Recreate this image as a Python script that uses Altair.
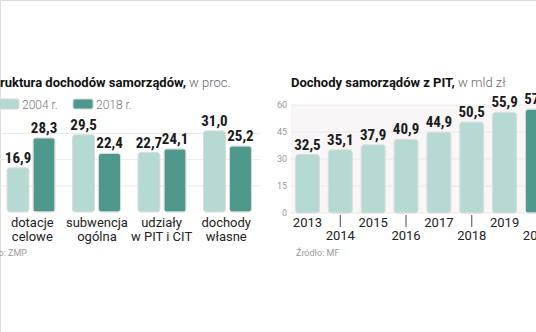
import subprocess
import altair as alt
import pandas as pd

# ---------------- data ----------------
# left panel: Struktura dochodów samorządów, w proc.
categories = ["dotacje\ncelowe", "subwencja\nogólna", "udziały\nw PIT i CIT", "dochody\nwłasne"]
series_years = ["2004 r.", "2018 r."]
values_2004 = [16.9, 29.5, 22.7, 31.0]
values_2018 = [28.3, 22.4, 24.1, 25.2]
left_ticks = [10, 20, 30]

# right panel: Dochody samorządów z PIT, w mld zł
pit_years = ["2013", "2014", "2015", "2016", "2017", "2018", "2019", "2020"]
pit_values = [32.5, 35.1, 37.9, 40.9, 44.9, 50.5, 55.9, 57.7]
right_ticks = [0, 15, 30, 45, 60]

left_title = ["Struktura dochodów samorządów,", "w proc."]
right_title = ["Dochody samorządów z PIT,", "w mld zł"]
left_source = ["Źródło: ZMP"]
right_source = ["Źródło: MF"]

# ---------------- styles ----------------
LIGHT = "#b5dad3"
DARK = "#4e988c"
TXT_FONT = "Roboto"
GRID = "#ece8e8"
BG = "#f8f6f6"

# pick a condensed bold font for the value labels if one is installed
try:
    installed = subprocess.run(["fc-list", ":", "family"], capture_output=True,
                               text=True, timeout=10).stdout.lower()
except Exception:
    installed = ""
NUM_FONT, NUM_SIZE = "Roboto", 13.5
for fam, size in [("Roboto Condensed", 15), ("Noto Sans Condensed", 15),
                  ("Noto Sans ExtraCondensed", 16), ("Noto Sans SemiCondensed", 14.5),
                  ("DejaVu Sans Condensed", 14), ("Liberation Sans Narrow", 15),
                  ("Open Sans Condensed", 15)]:
    if fam.lower() in installed:
        NUM_FONT, NUM_SIZE = fam, size
        break


def fmt(v):
    return f"{v:.1f}".replace(".", ",")


left_rows = []
for c, a, b in zip(categories, values_2004, values_2018):
    left_rows.append({"cat": c, "year": series_years[0], "value": a, "label": fmt(a)})
    left_rows.append({"cat": c, "year": series_years[1], "value": b, "label": fmt(b)})
df_left = pd.DataFrame(left_rows)
df_cats = pd.DataFrame({"cat": categories})
df_lt = pd.DataFrame({"v": left_ticks})

df_right = pd.DataFrame({
    "yr": pit_years,
    "value": pit_values,
    "label": [fmt(v) for v in pit_values],
    "row": [i % 2 for i in range(len(pit_years))],
    "hl": ["n"] * (len(pit_years) - 1) + ["y"],
})
df_rt = pd.DataFrame({"v": right_ticks, "t": [str(t) for t in right_ticks]})

# ---------------- scales ----------------
x_left = alt.Scale(domain=categories, range=[0, 258.5], paddingInner=0.267, paddingOuter=0.107)
xo_left = alt.Scale(domain=series_years, paddingInner=0.154, paddingOuter=0)
y_left = alt.Scale(domain=[0, 35], range=[212, 212 - 2.62 * 35], nice=False)
c_left = alt.Scale(domain=series_years, range=[LIGHT, DARK])

x_right = alt.Scale(domain=pit_years, range=[291, 553.9], paddingInner=0.27, paddingOuter=0.137)
y_right = alt.Scale(domain=[0, 60], range=[213, 105], nice=False)
c_right = alt.Scale(domain=["n", "y"], range=[LIGHT, DARK])

layers = []

# ---------- left panel ----------
layers.append(
    alt.Chart(df_lt).mark_rule(color=GRID, strokeWidth=1).encode(
        x=alt.value(0), x2=alt.value(260),
        y=alt.Y("v:Q", scale=y_left, axis=None),
    )
)
layers.append(
    alt.Chart(df_left).mark_bar(cornerRadius=3, stroke="#dadada", strokeWidth=1).encode(
        x=alt.X("cat:N", scale=x_left, axis=None, sort=categories),
        xOffset=alt.XOffset("year:N", scale=xo_left),
        y=alt.Y("value:Q", scale=y_left, axis=None),
        color=alt.Color("year:N", scale=c_left, legend=None),
    )
)
layers.append(
    alt.Chart(df_left).mark_text(baseline="bottom", dy=-2, font=NUM_FONT, fontSize=NUM_SIZE,
                                 fontWeight="bold", color="#1a1a1a").encode(
        x=alt.X("cat:N", scale=x_left, axis=None, sort=categories),
        xOffset=alt.XOffset("year:N", scale=xo_left),
        y=alt.Y("value:Q", scale=y_left, axis=None),
        text="label:N",
    )
)
layers.append(
    alt.Chart(df_cats).mark_text(baseline="top", lineBreak="\n", font=TXT_FONT, fontSize=13,
                                 lineHeight=14, color="#222222").encode(
        x=alt.X("cat:N", scale=x_left, axis=None, sort=categories),
        y=alt.value(217),
        text="cat:N",
    )
)
# legend
leg = [(series_years[0], LIGHT, -1), (series_years[1], DARK, 73)]
for name, col, x0 in leg:
    d = pd.DataFrame({"t": [name]})
    layers.append(
        alt.Chart(d).mark_rect(cornerRadius=2, stroke="#d8d8d8", strokeWidth=1).encode(
            x=alt.value(x0), x2=alt.value(x0 + 20), y=alt.value(99), y2=alt.value(109),
            color=alt.value(col),
        )
    )
    layers.append(
        alt.Chart(d).mark_text(align="left", baseline="middle", font=TXT_FONT, fontSize=12,
                               fontWeight=300, color="#777777").encode(
            x=alt.value(x0 + 23), y=alt.value(104.5), text="t:N",
        )
    )

# titles
layers.append(
    alt.Chart(pd.DataFrame({"t": [left_title[0]]})).mark_text(
        align="right", baseline="alphabetic", font=TXT_FONT, fontSize=13, fontWeight="bold",
        color="#111111").encode(x=alt.value(186), y=alt.value(87), text="t:N")
)
layers.append(
    alt.Chart(pd.DataFrame({"t": [left_title[1]]})).mark_text(
        align="left", baseline="alphabetic", font=TXT_FONT, fontSize=13, fontWeight=300,
        color="#666666").encode(x=alt.value(189), y=alt.value(87), text="t:N")
)
layers.append(
    alt.Chart(pd.DataFrame({"t": left_source})).mark_text(
        align="right", baseline="middle", font=TXT_FONT, fontSize=9, color="#999999").encode(
        x=alt.value(27), y=alt.value(253), text="t:N")
)

# ---------- right panel ----------
layers.append(
    alt.Chart(pd.DataFrame({"a": [0], "b": [60]})).mark_rect(color=BG).encode(
        x=alt.value(291), x2=alt.value(540),
        y=alt.Y("b:Q", scale=y_right, axis=None), y2="a:Q",
    )
)
layers.append(
    alt.Chart(df_rt).mark_rule(color=GRID, strokeWidth=1).encode(
        x=alt.value(291), x2=alt.value(540),
        y=alt.Y("v:Q", scale=y_right, axis=None),
    )
)
layers.append(
    alt.Chart(df_rt).mark_text(align="right", baseline="middle", font=TXT_FONT, fontSize=9,
                               color="#999999").encode(
        x=alt.value(287),
        y=alt.Y("v:Q", scale=y_right, axis=None),
        text="t:N",
    )
)
layers.append(
    alt.Chart(df_right).mark_bar(cornerRadius=3, stroke="#dadada", strokeWidth=1).encode(
        x=alt.X("yr:N", scale=x_right, axis=None),
        y=alt.Y("value:Q", scale=y_right, axis=None),
        color=alt.Color("hl:N", scale=c_right, legend=None),
    )
)
layers.append(
    alt.Chart(df_right).mark_text(baseline="bottom", dy=-2, font=NUM_FONT, fontSize=NUM_SIZE,
                                  fontWeight="bold", color="#1a1a1a").encode(
        x=alt.X("yr:N", scale=x_right, axis=None),
        y=alt.Y("value:Q", scale=y_right, axis=None),
        text="label:N",
    )
)
layers.append(
    alt.Chart(df_right).transform_filter(alt.datum.row == 0).mark_text(
        baseline="top", font=TXT_FONT, fontSize=13, color="#222222").encode(
        x=alt.X("yr:N", scale=x_right, axis=None),
        y=alt.value(217),
        text="yr:N",
    )
)
layers.append(
    alt.Chart(df_right).transform_filter(alt.datum.row == 1).mark_text(
        baseline="top", font=TXT_FONT, fontSize=13, color="#222222").encode(
        x=alt.X("yr:N", scale=x_right, axis=None),
        y=alt.value(230),
        text="yr:N",
    )
)
layers.append(
    alt.Chart(df_right).transform_filter(alt.datum.row == 1).mark_rule(
        color="#666666", strokeWidth=1.2).encode(
        x=alt.X("yr:N", scale=x_right, axis=None),
        y=alt.value(215), y2=alt.value(227),
    )
)
layers.append(
    alt.Chart(pd.DataFrame({"t": [right_title[0]]})).mark_text(
        align="left", baseline="alphabetic", font=TXT_FONT, fontSize=13, fontWeight="bold",
        color="#111111").encode(x=alt.value(291), y=alt.value(87), text="t:N")
)
layers.append(
    alt.Chart(pd.DataFrame({"t": [right_title[1]]})).mark_text(
        align="left", baseline="alphabetic", font=TXT_FONT, fontSize=13, fontWeight=300,
        color="#666666").encode(x=alt.value(458), y=alt.value(87), text="t:N")
)
layers.append(
    alt.Chart(pd.DataFrame({"t": right_source})).mark_text(
        align="left", baseline="middle", font=TXT_FONT, fontSize=9, color="#999999").encode(
        x=alt.value(296), y=alt.value(253), text="t:N")
)

chart = alt.layer(*layers).resolve_scale(
    x="independent", y="independent", color="independent"
).properties(
    width=536, height=332, padding=0,
    autosize=alt.AutoSizeParams(type="none"),
).configure_view(stroke=None).configure(background="white")

chart.save("out.html", embed_options={"renderer": "svg", "actions": False})
